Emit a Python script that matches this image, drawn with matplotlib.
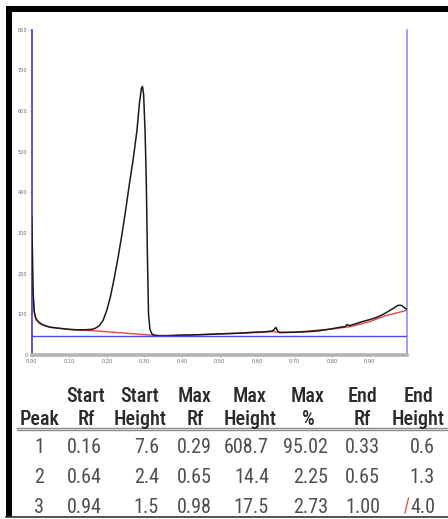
import matplotlib.pyplot as plt
import numpy as np

W, H = 448, 519

# densitometry trace (Rf, intensity)
rf_trace = [0.000, 0.002, 0.004, 0.007, 0.012, 0.02, 0.03, 0.05, 0.08, 0.10,
            0.12, 0.14, 0.16, 0.17, 0.18, 0.19, 0.20, 0.21, 0.22, 0.23,
            0.24, 0.25, 0.26, 0.27, 0.28, 0.287, 0.292, 0.295, 0.298, 0.302,
            0.305, 0.308, 0.311, 0.315, 0.320, 0.325, 0.34, 0.36, 0.38, 0.40,
            0.42, 0.45, 0.48, 0.50, 0.53, 0.56, 0.59, 0.62, 0.64, 0.645,
            0.65, 0.655, 0.66, 0.70, 0.73, 0.76, 0.79, 0.82, 0.835, 0.84,
            0.845, 0.86, 0.88, 0.90, 0.92, 0.94, 0.96, 0.975, 0.985, 0.995, 1.00]
trace = [340, 250, 150, 105, 88, 80, 74, 68, 65, 63,
         62, 62, 63, 66, 72, 85, 110, 145, 190, 240,
         295, 355, 420, 480, 550, 620, 655, 660, 640, 545,
         430, 250, 100, 62, 52, 49, 47, 47, 48, 49,
         49, 50, 51, 52, 53, 54, 56, 57, 59, 62,
         68, 58, 55, 56, 57, 59, 63, 68, 70, 75,
         72, 76, 82, 87, 93, 102, 113, 122, 122, 114, 112]

# fitted baseline
rf_base = [0.000, 0.003, 0.006, 0.01, 0.02, 0.04, 0.07, 0.10, 0.13, 0.16,
           0.33, 0.40, 0.50, 0.60, 0.64, 0.66, 0.70, 0.80, 0.85, 0.90, 0.94, 1.00]
base = [210, 150, 110, 90, 78, 70, 66, 63, 61, 60,
        48, 48.5, 51.5, 55, 57.5, 56, 56, 64, 70, 82, 96, 110]

threshold = 46

# peak table
columns = [("", "Peak"), ("Start", "Rf"), ("Start", "Height"), ("Max", "Rf"),
           ("Max", "Height"), ("Max", "%"), ("End", "Rf"), ("End", "Height")]
rows = [["1", "0.16", "7.6", "0.29", "608.7", "95.02", "0.33", "0.6"],
        ["2", "0.64", "2.4", "0.65", "14.4", "2.25", "0.65", "1.3"],
        ["3", "0.94", "1.5", "0.98", "17.5", "2.73", "1.00", "4.0"]]

def fx(px):
    return px / W

def fy(py):
    return 1 - py / H

fig = plt.figure(figsize=(W / 100, H / 100), dpi=100)
fig.patch.set_facecolor('white')

ax = fig.add_axes([fx(31.7), fy(355), fx(407.3) - fx(31.7), fy(29.5) - fy(355)])
ax.plot(rf_base, base, color='#e8453c', lw=1.0, zorder=2)
ax.plot(rf_trace, trace, color='#1a1a1a', lw=1.1, zorder=3)
ax.axhline(threshold, color='#4a4ae6', lw=1.0, zorder=4)
ax.set_xlim(0, 1)
ax.set_ylim(0, 800)
ax.spines['top'].set_visible(False)
ax.spines['left'].set_color('#4a4ad8')
ax.spines['left'].set_linewidth(1.3)
ax.spines['right'].set_color('#9a9af2')
ax.spines['right'].set_linewidth(1.3)
ax.spines['bottom'].set_color('#b4b4b4')
ax.spines['bottom'].set_linewidth(2.6)
ax.set_yticks(np.arange(0, 801, 100))
ax.set_yticklabels([str(v) for v in range(0, 801, 100)])
ax.set_xticks(np.arange(0, 0.95, 0.1))
ax.set_xticklabels(['%.2f' % v for v in np.arange(0, 0.95, 0.1)])
ax.tick_params(axis='both', labelsize=3.6, labelcolor='#666666', colors='#888888',
               length=1.5, width=0.5, pad=1.5)

# table text
narrow = ['Liberation Sans Narrow', 'Arial Narrow', 'Roboto Condensed', 'Archivo Narrow',
          'Liberation Sans']
head_x = [39.7, 86, 140, 195, 250, 308, 362.5, 418.5]
data_x = [39, 101.7, 159, 211.7, 269, 328, 380, 435]
data_ha = ['center', 'right', 'right', 'right', 'right', 'right', 'right', 'right']
for (l1, l2), x in zip(columns, head_x):
    fig.text(fx(x), fy(402), l1, ha='center', va='baseline', fontsize=14.5,
             color='#2a2a2a', fontweight='medium', family=narrow)
    fig.text(fx(x), fy(425), l2, ha='center', va='baseline', fontsize=14.5,
             color='#2a2a2a', fontweight='medium', family=narrow)
for r, yb in zip(rows, [453, 483, 513]):
    for val, x, ha in zip(r, data_x, data_ha):
        fig.text(fx(x), fy(yb), val, ha=ha, va='baseline', fontsize=14.5,
                 color='#4e4e4e', family=narrow)

# rule under header
for yy in (427.6, 430.2):
    fig.add_artist(plt.Line2D([fx(17), 1], [fy(yy), fy(yy)], color='#8a8a8a', lw=1.0))

# pen mark next to last value
fig.add_artist(plt.Line2D([fx(405), fx(408.5)], [fy(513), fy(498)], color='#e8453c', lw=0.9))

# frame
fig.add_artist(plt.Rectangle((fx(6), fy(12)), 1 - fx(6), fy(6) - fy(12),
                             color='black', lw=0))
fig.add_artist(plt.Rectangle((fx(6), fy(517)), fx(11.5) - fx(6), fy(6) - fy(517),
                             color='black', lw=0))
fig.add_artist(plt.Line2D([fx(6), 1], [fy(517), fy(517)], color='#333333', lw=1.2))

fig.savefig('out.png', dpi=100)
